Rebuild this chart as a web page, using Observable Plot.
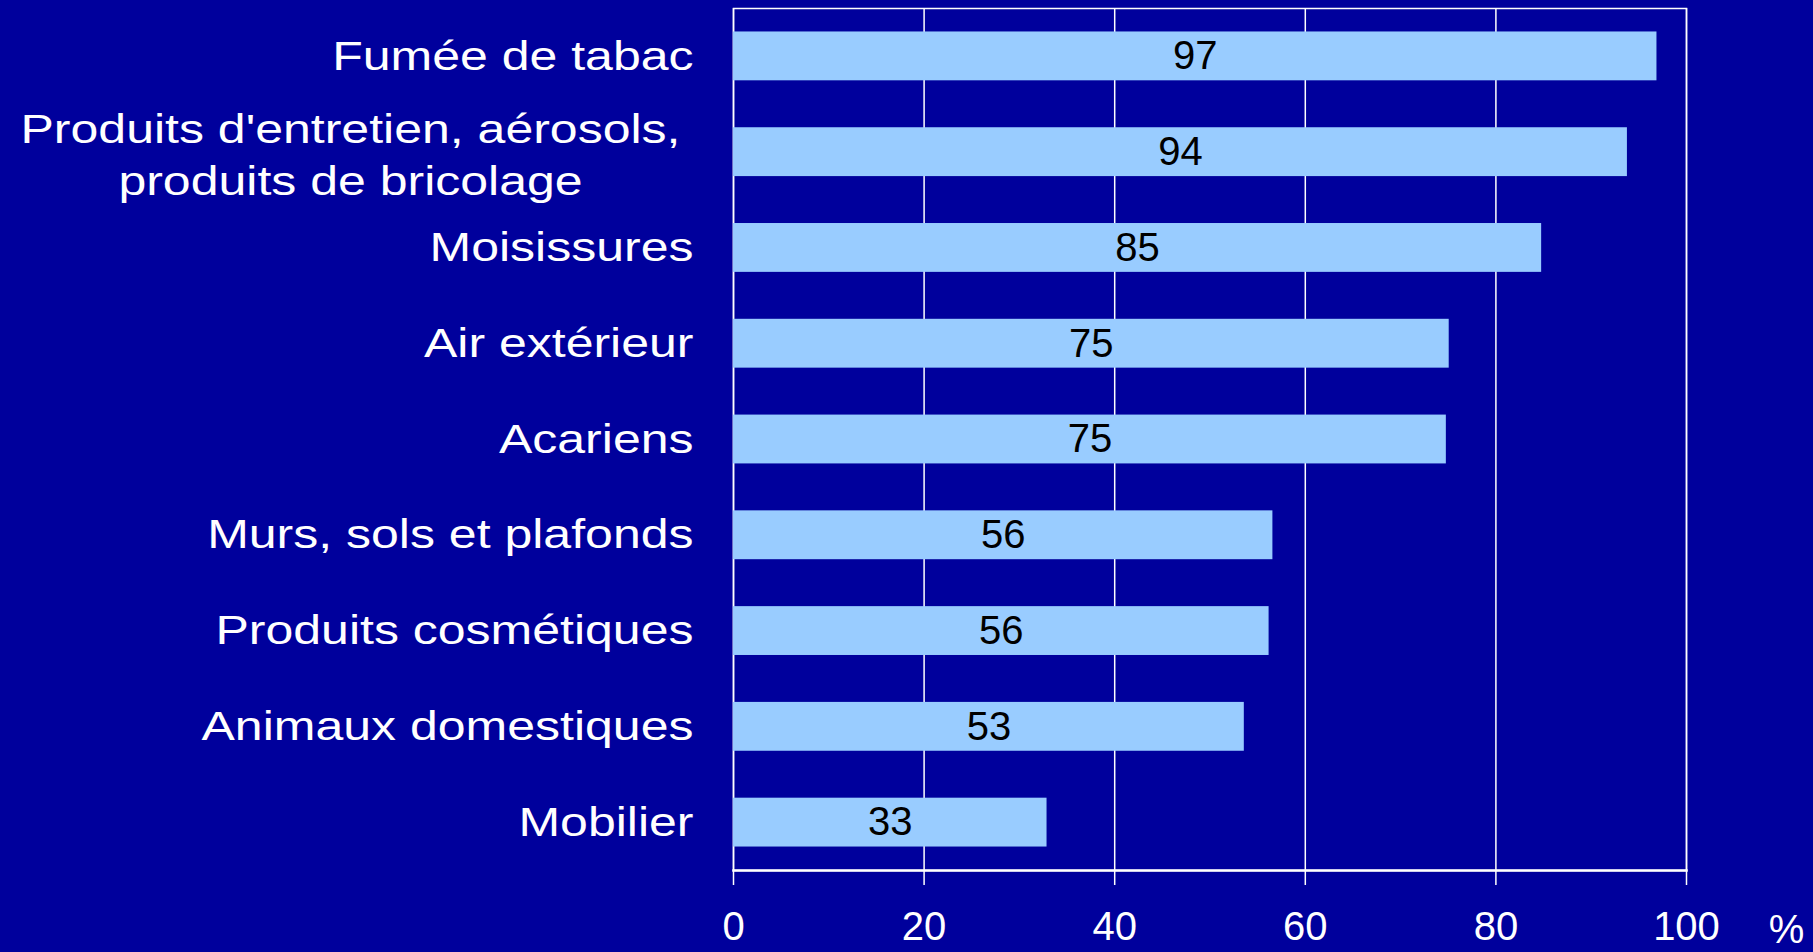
<!DOCTYPE html>
<html>
<head>
<meta charset="utf-8">
<script src="https://cdn.jsdelivr.net/npm/d3@7"></script>
<script src="https://cdn.jsdelivr.net/npm/@observablehq/plot@0.6"></script>
<style>
  html, body { margin: 0; padding: 0; background: #00009C; overflow: hidden; }
  #chart svg { display: block; }
</style>
</head>
<body>
<div id="chart"></div>
<script>
const categories = [
  "Fumée de tabac",
  "Produits d'entretien, aérosols,\nproduits de bricolage",
  "Moisissures",
  "Air extérieur",
  "Acariens",
  "Murs, sols et plafonds",
  "Produits cosmétiques",
  "Animaux domestiques",
  "Mobilier"
];
const values = [96.9, 93.8, 84.8, 75.1, 74.8, 56.6, 56.2, 53.6, 32.9];
const valueLabels = ["97", "94", "85", "75", "75", "56", "56", "53", "33"];
const xTicks = [0, 20, 40, 60, 80, 100];
const unitLabel = ["%"];

const data = categories.map((c, i) => ({category: c, value: values[i], label: valueLabels[i]}));
const multiLine = categories.filter(c => c.includes("\n"));
const singleLine = categories.filter(c => !c.includes("\n"));

const FONT = "'Liberation Sans', Arial, Helvetica, sans-serif";

const chart = Plot.plot({
  width: 1813,
  height: 952,
  marginLeft: 733,
  marginRight: 127,
  marginTop: 8,
  marginBottom: 82,
  style: {background: "#00009C", color: "white", fontFamily: FONT, fontSize: "40px"},
  x: {domain: [0, 100], ticks: xTicks},
  y: {domain: categories, paddingInner: 0.49, paddingOuter: 0.245, round: false},
  marks: [
    Plot.gridX(xTicks, {stroke: "white", strokeOpacity: 1, strokeWidth: 1.5}),
    Plot.frame({stroke: "white", strokeWidth: 1.5}),
    Plot.frame({anchor: "bottom", stroke: "white", strokeWidth: 2.5}),
    Plot.barX(data, {x: "value", y: "category", fill: "#99CCFF"}),
    Plot.text(data, {x: d => d.value / 2, y: "category", text: "label", fill: "black", fontSize: 40}),
    Plot.axisX({ticks: xTicks, tickSize: 15, tickPadding: 26, stroke: "white", strokeWidth: 1.5, fontSize: 40, label: null}),
    Plot.axisY({ticks: singleLine, tickSize: 0, tickPadding: 40, fontSize: 41, label: null}),
    Plot.axisY({ticks: multiLine, tickSize: 0, tickPadding: 383, textAnchor: "middle", lineHeight: 1.27, fontSize: 41, label: null}),
    Plot.text(unitLabel, {frameAnchor: "bottom-right", dx: 100, dy: 44, textAnchor: "middle", lineAnchor: "top", fill: "white", fontSize: 40})
  ]
});

document.getElementById("chart").appendChild(chart);

// Horizontally stretch the category labels as in the original slide
chart.querySelectorAll('g[aria-label="y-axis tick label"] text').forEach(t => {
  const tr = t.getAttribute("transform") || "";
  t.setAttribute("transform", tr + " scale(1.22,1)");
});
</script>
</body>
</html>
